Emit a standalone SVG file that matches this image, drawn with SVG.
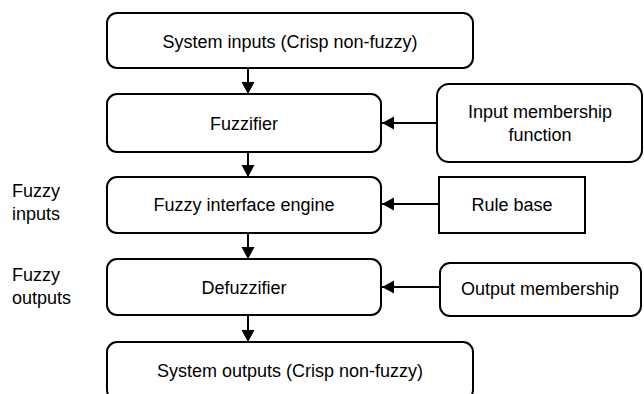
<svg xmlns="http://www.w3.org/2000/svg" width="644" height="394" viewBox="0 0 644 394">
<style>
.box{fill:#fff;stroke:#000;stroke-width:2}
.t{font-family:"Liberation Sans",Arial,sans-serif;font-size:18px;fill:#000;text-anchor:middle}
.l{font-family:"Liberation Sans",Arial,sans-serif;font-size:18px;fill:#000}
.c{stroke:#000;stroke-width:2;fill:none}
</style>
<defs>
<marker id="ah" markerWidth="14" markerHeight="14" refX="12" refY="7" orient="auto" markerUnits="userSpaceOnUse">
<path d="M0,0.5 L12,7 L0,13.5 Z" fill="#000"/>
</marker>
</defs>
<rect width="644" height="394" fill="#fff"/>
<g id="connectors">
<line class="c" x1="248" y1="68" x2="248" y2="94" marker-end="url(#ah)"/>
<line class="c" x1="248" y1="152" x2="248" y2="177" marker-end="url(#ah)"/>
<line class="c" x1="248" y1="233" x2="248" y2="259" marker-end="url(#ah)"/>
<line class="c" x1="248" y1="315" x2="248" y2="342" marker-end="url(#ah)"/>
<line class="c" x1="437" y1="123" x2="382" y2="123" marker-end="url(#ah)"/>
<line class="c" x1="439" y1="204" x2="382" y2="204" marker-end="url(#ah)"/>
<line class="c" x1="440" y1="287" x2="382" y2="287" marker-end="url(#ah)"/>
</g>
<g id="system-inputs">
<rect class="box" x="107" y="13" width="366" height="55" rx="10"/>
<text class="t" x="290" y="48">System inputs (Crisp non-fuzzy)</text>
</g>
<g id="fuzzifier">
<rect class="box" x="107" y="94" width="274" height="58" rx="10"/>
<text class="t" x="244" y="130">Fuzzifier</text>
</g>
<g id="inference-engine">
<rect class="box" x="107" y="177" width="274" height="56" rx="10"/>
<text class="t" x="244" y="211">Fuzzy interface engine</text>
</g>
<g id="defuzzifier">
<rect class="box" x="107" y="259" width="274" height="56" rx="10"/>
<text class="t" x="244" y="294">Defuzzifier</text>
</g>
<g id="system-outputs">
<rect class="box" x="107" y="342" width="366" height="58" rx="10"/>
<text class="t" x="290" y="377">System outputs (Crisp non-fuzzy)</text>
</g>
<g id="input-membership">
<rect class="box" x="437" y="84" width="205" height="78" rx="12"/>
<text class="t" x="540" y="118">Input membership</text>
<text class="t" x="540" y="141">function</text>
</g>
<g id="rule-base">
<rect class="box" x="439" y="177" width="146" height="56"/>
<text class="t" x="512" y="211">Rule base</text>
</g>
<g id="output-membership">
<rect class="box" x="440" y="263" width="201" height="53" rx="10"/>
<text class="t" x="540" y="295">Output membership</text>
</g>
<g id="label-fuzzy-inputs">
<text class="l" x="12" y="197">Fuzzy</text>
<text class="l" x="12" y="220">inputs</text>
</g>
<g id="label-fuzzy-outputs">
<text class="l" x="12" y="281">Fuzzy</text>
<text class="l" x="12" y="304">outputs</text>
</g>
</svg>
